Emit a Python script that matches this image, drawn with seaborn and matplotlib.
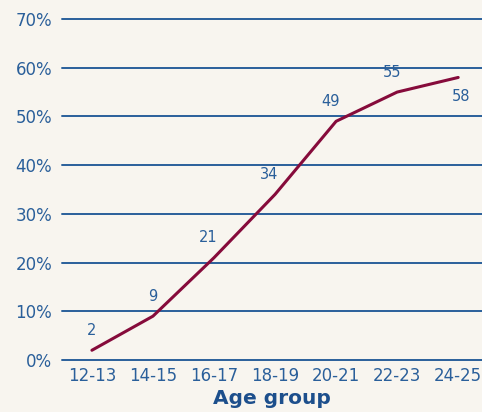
import matplotlib
matplotlib.use('Agg')
import matplotlib.pyplot as plt
import seaborn as sns
import pandas as pd

# dados
faixas = ['12-13', '14-15', '16-17', '18-19', '20-21', '22-23', '24-25']
valores = [2, 9, 21, 34, 49, 55, 58]
yticks = [0, 10, 20, 30, 40, 50, 60, 70]
ytick_labels = ['0%', '10%', '20%', '30%', '40%', '50%', '60%', '70%']

df = pd.DataFrame({'Faixa': faixas, 'Valor': valores})
df['pos'] = range(len(df))

fundo = '#f8f5ef'
azul = '#2a5f9a'
vinho = '#860b3b'

sns.set_style('white')
plt.rcParams['font.family'] = ['DejaVu Sans']

fig = plt.figure(figsize=(4.82, 4.12), dpi=100, facecolor=fundo)
ax = fig.add_axes([62 / 482, 52 / 412, 420 / 482, 341 / 412])
ax.set_facecolor(fundo)

for y in yticks:
    ax.axhline(y, color=azul, lw=1.4, zorder=1, clip_on=False)

sns.lineplot(data=df, x='pos', y='Valor', color=vinho, lw=2.2, ax=ax, zorder=3)

# rotulos dos pontos (o ultimo fica abaixo)
for i, v in enumerate(valores):
    if i == len(valores) - 1:
        ax.annotate(str(v), (i, v), xytext=(2, -8), textcoords='offset points',
                    ha='center', va='top', fontsize=10.5, color=azul)
    else:
        dx = 0 if i < 2 else -4
        ax.annotate(str(v), (i, v), xytext=(dx, 9), textcoords='offset points',
                    ha='center', va='bottom', fontsize=10.5, color=azul)

ax.set_xlim(-0.49, 6.39)
ax.set_ylim(0, 70)
ax.set_xticks(df['pos'])
ax.set_xticklabels(faixas)
ax.set_yticks(yticks)
ax.set_yticklabels(ytick_labels)
ax.tick_params(axis='both', length=0, labelsize=12, labelcolor=azul)
ax.tick_params(axis='y', pad=7)
ax.tick_params(axis='x', pad=5)
ax.set_ylabel('')
ax.set_xlabel('Age group', fontsize=14.5, fontweight='bold', color='#1d4f8c', labelpad=3)
sns.despine(ax=ax, left=True, bottom=True)

fig.savefig('out.png', dpi=100, facecolor=fundo)
